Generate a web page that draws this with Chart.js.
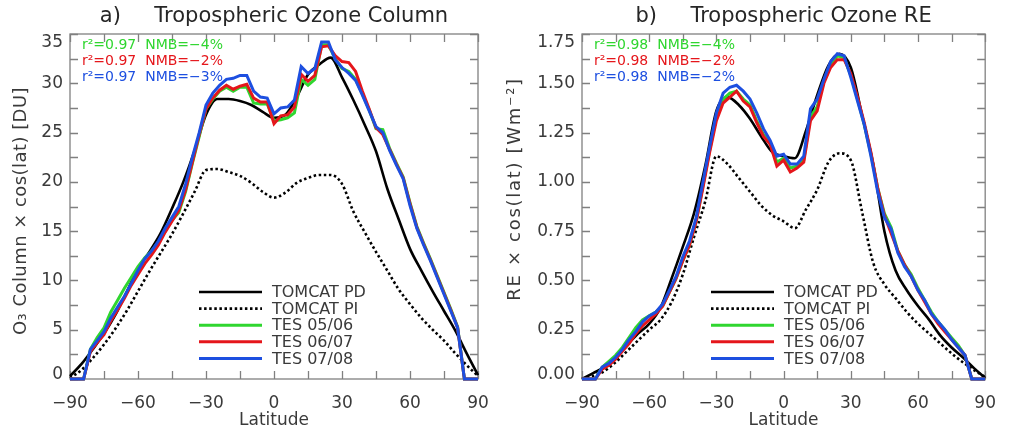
<!DOCTYPE html>
<html>
<head>
<meta charset="utf-8">
<script src="https://cdn.jsdelivr.net/npm/chart.js@4.4.1/dist/chart.umd.min.js"></script>
<style>
  html, body { margin: 0; padding: 0; background: #fff; }
  #wrap { position: relative; width: 1010px; height: 431px; }
  #wrap canvas { position: absolute; top: 0; }
</style>
</head>
<body>
<div id="wrap">
  <canvas id="chartCol" width="505" height="431" style="left:0"></canvas>
  <canvas id="chartRE" width="505" height="431" style="left:505px"></canvas>
</div>
<script>
/* ====== DATA ====== */

// latitude grids (model output every 5 deg, TES zonal means every 3 deg)
const latModel = [-90, -85, -80, -75, -70, -65, -60, -55, -50, -45,
                  -40, -35, -30, -25, -20, -15, -10, -5, 0, 5,
                  10, 15, 20, 25, 30, 35, 40, 45, 50, 55,
                  60, 65, 70, 75, 80, 85, 90];
const latTES = [-90, -87, -84, -81, -78, -75, -72, -69, -66, -63,
                -60, -57, -54, -51, -48, -45, -42, -39, -36, -33,
                -30, -27, -24, -21, -18, -15, -12, -9, -6, -3,
                0, 3, 6, 9, 12, 15, 18, 21, 24, 27,
                30, 33, 36, 39, 42, 45, 48, 51, 54, 57,
                60, 63, 66, 69, 72, 75, 78, 81, 84, 87,
                90];
const latTicks = [-90, -60, -30, 0, 30, 60, 90];

// a) tropospheric ozone column x cos(lat) [DU]
const colPD = [0.3, 1.5, 3.0, 4.6, 6.5, 8.8, 11.2, 12.9, 14.8, 17.3,
               20.0, 23.2, 26.8, 28.4, 28.4, 28.2, 27.8, 27.1, 26.5, 26.8,
               28.6, 30.9, 31.9, 32.6, 30.6, 28.3, 25.8, 23.1, 19.3, 16.2,
               13.2, 11.0, 8.9, 6.9, 4.9, 2.6, 0.4];
const colPI = [0.1, 0.9, 2.1, 3.5, 5.1, 6.9, 8.9, 10.9, 12.8, 14.7,
               16.8, 19.0, 21.2, 21.3, 21.0, 20.6, 19.9, 19.0, 18.4, 18.9,
               19.9, 20.4, 20.7, 20.7, 19.8, 17.0, 14.9, 12.9, 11.0, 9.1,
               7.6, 6.2, 5.0, 3.9, 2.6, 1.4, 0.3];
const colTES0506 = [0, 0, 0, 3.0, 4.2, 5.2, 6.8, 8.0, 9.2, 10.3,
                    11.4, 12.3, 13.0, 13.9, 15.0, 16.1, 16.9, 19.0, 21.9, 24.6,
                    27.4, 28.4, 29.2, 29.6, 29.2, 29.6, 29.6, 28.0, 27.9, 27.9,
                    26.2, 26.3, 26.5, 27.0, 30.4, 29.8, 30.4, 33.9, 33.9, 32.5,
                    31.5, 31.2, 30.4, 28.9, 27.3, 25.4, 25.3, 23.4, 21.9, 20.5,
                    17.9, 15.5, 13.8, 12.2, 10.5, 8.8, 7.1, 5.3, 0, 0,
                    0];
const colTES0607 = [0, 0, 0, 2.8, 3.7, 4.5, 5.9, 7.0, 8.2, 9.5,
                    10.6, 11.7, 12.6, 13.6, 14.9, 16.0, 17.1, 19.2, 22.0, 24.8,
                    27.4, 28.5, 29.3, 29.8, 29.4, 29.7, 29.9, 28.5, 28.1, 28.1,
                    25.9, 26.7, 26.8, 27.6, 30.9, 30.2, 30.8, 33.7, 33.8, 32.8,
                    32.2, 32.1, 31.2, 29.2, 27.4, 25.5, 24.8, 23.3, 21.8, 20.4,
                    17.8, 15.4, 13.7, 12.1, 10.4, 8.7, 7.0, 5.2, 0, 0,
                    0];
const colTES0708 = [0, 0, 0, 3.0, 3.9, 4.8, 6.2, 7.3, 8.4, 9.7,
                    11.0, 12.2, 13.0, 14.0, 15.3, 16.4, 17.5, 19.8, 22.5, 25.0,
                    27.8, 29.0, 29.8, 30.4, 30.5, 30.8, 30.8, 29.2, 28.6, 28.5,
                    26.9, 27.5, 27.6, 28.3, 31.7, 31.0, 31.5, 34.2, 34.2, 32.4,
                    31.6, 31.0, 30.3, 28.8, 27.2, 25.6, 25.0, 23.2, 21.7, 20.3,
                    17.6, 15.3, 13.6, 12.0, 10.3, 8.6, 6.9, 5.2, 0, 0,
                    0];
const colR2 = [0.97, 0.97, 0.97];
const colNMB = [-4, -2, -3];

// b) tropospheric ozone RE x cos(lat) [W m-2]
const rePD = [0.0, 0.03, 0.06, 0.11, 0.17, 0.23, 0.28, 0.36, 0.51, 0.67,
              0.84, 1.08, 1.36, 1.43, 1.39, 1.32, 1.23, 1.15, 1.13, 1.12,
              1.26, 1.44, 1.59, 1.65, 1.58, 1.34, 1.09, 0.75, 0.55, 0.45,
              0.37, 0.30, 0.22, 0.16, 0.11, 0.055, 0.005];
const rePI = [0.0, 0.015, 0.04, 0.085, 0.14, 0.195, 0.25, 0.30, 0.39, 0.53,
              0.72, 0.90, 1.13, 1.09, 1.02, 0.95, 0.88, 0.83, 0.80, 0.765,
              0.86, 0.96, 1.10, 1.145, 1.11, 0.85, 0.59, 0.48, 0.41, 0.34,
              0.28, 0.23, 0.18, 0.13, 0.085, 0.045, 0.01];
const reTES0506 = [0, 0, 0, 0.06, 0.09, 0.12, 0.16, 0.21, 0.26, 0.30,
                   0.32, 0.34, 0.37, 0.44, 0.51, 0.60, 0.68, 0.80, 0.98, 1.16,
                   1.33, 1.42, 1.45, 1.46, 1.42, 1.39, 1.31, 1.24, 1.20, 1.10,
                   1.12, 1.07, 1.08, 1.11, 1.33, 1.38, 1.51, 1.59, 1.64, 1.63,
                   1.54, 1.42, 1.29, 1.14, 0.97, 0.84, 0.77, 0.65, 0.58, 0.53,
                   0.46, 0.40, 0.34, 0.29, 0.25, 0.21, 0.17, 0.12, 0, 0,
                   0];
const reTES0607 = [0, 0, 0, 0.05, 0.07, 0.10, 0.14, 0.18, 0.23, 0.27,
                   0.30, 0.33, 0.37, 0.44, 0.51, 0.60, 0.68, 0.80, 0.97, 1.15,
                   1.31, 1.40, 1.43, 1.46, 1.41, 1.38, 1.30, 1.23, 1.19, 1.08,
                   1.11, 1.05, 1.07, 1.10, 1.31, 1.36, 1.50, 1.58, 1.62, 1.62,
                   1.55, 1.43, 1.30, 1.15, 0.97, 0.83, 0.74, 0.65, 0.58, 0.52,
                   0.45, 0.39, 0.33, 0.28, 0.24, 0.20, 0.16, 0.12, 0, 0,
                   0];
const reTES0708 = [0, 0, 0, 0.06, 0.08, 0.11, 0.15, 0.20, 0.24, 0.29,
                   0.32, 0.34, 0.38, 0.45, 0.52, 0.62, 0.70, 0.82, 1.00, 1.18,
                   1.35, 1.45, 1.48, 1.49, 1.46, 1.42, 1.35, 1.27, 1.21, 1.13,
                   1.14, 1.09, 1.09, 1.13, 1.37, 1.42, 1.52, 1.61, 1.65, 1.64,
                   1.53, 1.41, 1.29, 1.13, 0.95, 0.82, 0.76, 0.64, 0.57, 0.52,
                   0.45, 0.40, 0.33, 0.29, 0.25, 0.20, 0.16, 0.12, 0, 0,
                   0];
const reR2 = [0.98, 0.98, 0.98];
const reNMB = [-4, -2, -2];

/* ====== STYLE ====== */
const FONT = '"DejaVu Sans", sans-serif';
const TEXT = '#3a3a3a';
const GREEN = '#2fd62f';
const RED = '#e5161b';
const BLUE = '#1d4fe0';
const tesColors = [GREEN, RED, BLUE];

Chart.defaults.font.family = FONT;
Chart.defaults.color = TEXT;

const minus = v => (v < 0 ? '\u2212' + Math.abs(v) : String(v));
const pts = (xs, ys) => xs.map((x, i) => ({ x: x, y: ys[i] }));

/* ====== PLUGINS ====== */

// IDL style frame: box round the plot with inward ticks on all 4 sides
const boxTicks = {
  id: 'boxTicks',
  beforeDatasetsDraw(chart, args, opts) {
    const { ctx, chartArea: a, scales: { x, y } } = chart;
    const len = 8;
    ctx.save();
    ctx.strokeStyle = '#808080';
    ctx.lineWidth = 1.3;
    ctx.strokeRect(a.left, a.top, a.right - a.left, a.bottom - a.top);
    ctx.beginPath();
    for (let v = x.min; v <= x.max + 1e-9; v += opts.xMinor) {
      const px = Math.round(x.getPixelForValue(v)) + 0.5;
      ctx.moveTo(px, a.bottom); ctx.lineTo(px, a.bottom - len);
      ctx.moveTo(px, a.top); ctx.lineTo(px, a.top + len);
    }
    for (let v = y.min; v <= y.max + 1e-9; v += opts.yMinor) {
      const py = Math.round(y.getPixelForValue(v)) + 0.5;
      ctx.moveTo(a.left, py); ctx.lineTo(a.left + len, py);
      ctx.moveTo(a.right, py); ctx.lineTo(a.right - len, py);
    }
    ctx.stroke();

    // y tick labels (kept inside the frame height like IDL does)
    ctx.font = '17px ' + FONT;
    ctx.fillStyle = TEXT;
    ctx.textAlign = 'right';
    ctx.textBaseline = 'middle';
    y.ticks.forEach(t => {
      const py = Math.min(Math.max(y.getPixelForValue(t.value), a.top + 9), a.bottom - 4);
      ctx.fillText(opts.yFmt(t.value), a.left - 7, py);
    });

    // y axis title
    ctx.save();
    ctx.translate(opts.yTitleX, opts.yTitleY);
    ctx.rotate(-Math.PI / 2);
    ctx.font = '18px ' + FONT;
    ctx.textAlign = 'center';
    if ('letterSpacing' in ctx) ctx.letterSpacing = opts.yTitleSpacing + 'px';
    ctx.fillText(opts.yTitle, 0, 0);
    ctx.restore();
    ctx.restore();
  }
};

// panel title, r2/NMB statistics and the legend inside the plot
const panelText = {
  id: 'panelText',
  afterDatasetsDraw(chart, args, opts) {
    const { ctx, chartArea: a } = chart;
    ctx.save();
    ctx.textBaseline = 'middle';

    // title
    ctx.font = '21px ' + FONT;
    ctx.fillStyle = '#262626';
    ctx.textAlign = 'center';
    ctx.fillText(opts.title, (a.left + a.right) / 2, 17);

    // stats
    ctx.font = '14px ' + FONT;
    ctx.textAlign = 'left';
    opts.r2.forEach((r, i) => {
      ctx.fillStyle = tesColors[i];
      ctx.fillText('r\u00b2=' + r.toFixed(2) + '  NMB=' + minus(opts.nmb[i]) + '%',
                   a.left + 12, a.top + 11 + i * 16);
    });

    // legend
    ctx.font = '16px ' + FONT;
    chart.data.datasets.forEach((ds, i) => {
      const yy = a.top + 258 + i * 16.6;
      ctx.beginPath();
      ctx.strokeStyle = ds.borderColor;
      ctx.lineWidth = ds.borderWidth;
      ctx.setLineDash(ds.borderDash || []);
      ctx.moveTo(a.left + 129, yy);
      ctx.lineTo(a.left + 192, yy);
      ctx.stroke();
      ctx.setLineDash([]);
      ctx.fillStyle = TEXT;
      ctx.fillText(ds.label, a.left + 202, yy + 1);
    });
    ctx.restore();
  }
};

/* ====== CHARTS ====== */

function makePanel(id, o) {
  const tes = (data, i) => ({
    label: ['TES 05/06', 'TES 06/07', 'TES 07/08'][i],
    data: pts(latTES, data),
    borderColor: tesColors[i],
    borderWidth: 3,
    order: 3 - i,
    clip: 6
  });
  return new Chart(document.getElementById(id), {
    type: 'line',
    data: {
      datasets: [
        { label: 'TOMCAT PD', data: pts(latModel, o.pd), borderColor: '#000', borderWidth: 2.6,
          cubicInterpolationMode: 'monotone', order: 5, clip: 6 },
        { label: 'TOMCAT PI', data: pts(latModel, o.pi), borderColor: '#000', borderWidth: 2.6,
          borderDash: [2.5, 2.6], cubicInterpolationMode: 'monotone', order: 4, clip: 6 },
        tes(o.tes[0], 0),
        tes(o.tes[1], 1),
        tes(o.tes[2], 2)
      ]
    },
    options: {
      responsive: false,
      animation: false,
      elements: { point: { radius: 0 }, line: { tension: 0 } },
      layout: { padding: { left: 0, right: o.padRight, top: 34, bottom: 0 } },
      plugins: {
        legend: { display: false },
        tooltip: { enabled: false },
        boxTicks: { xMinor: 15, yMinor: o.yMinor, yFmt: o.yFmt,
                    yTitle: o.yTitle, yTitleX: o.yTitleX, yTitleY: o.yTitleY,
                    yTitleSpacing: o.yTitleSpacing },
        panelText: { title: o.title, r2: o.r2, nmb: o.nmb }
      },
      scales: {
        x: {
          type: 'linear', min: latTicks[0], max: latTicks[latTicks.length - 1],
          grid: { display: false, drawTicks: false }, border: { display: false },
          afterBuildTicks: s => { s.ticks = latTicks.map(v => ({ value: v })); },
          ticks: { padding: 14, color: TEXT, font: { size: 17 }, maxRotation: 0, autoSkip: false,
                   callback: v => minus(v) },
          title: { display: true, text: 'Latitude', color: TEXT, font: { size: 17 },
                   padding: { top: 0, bottom: 0 } },
          afterFit: s => { s.height = 52; }
        },
        y: {
          min: 0, max: o.ymax,
          grid: { display: false, drawTicks: false }, border: { display: false },
          ticks: { stepSize: o.yStep, display: false },
          afterFit: s => { s.width = o.yWidth; }
        }
      }
    },
    plugins: [boxTicks, panelText]
  });
}

makePanel('chartCol', {
  title: 'a)     Tropospheric Ozone Column',
  pd: colPD, pi: colPI, tes: [colTES0506, colTES0607, colTES0708],
  r2: colR2, nmb: colNMB,
  ymax: 35, yStep: 5, yMinor: 2.5, yFmt: v => String(v),
  yTitle: 'O\u2083 Column \u00d7 cos(lat) [DU]', yTitleX: 21.5, yTitleY: 211, yTitleSpacing: 0.45,
  yWidth: 70, padRight: 27
});

makePanel('chartRE', {
  title: 'b)     Tropospheric Ozone RE',
  pd: rePD, pi: rePI, tes: [reTES0506, reTES0607, reTES0708],
  r2: reR2, nmb: reNMB,
  ymax: 1.75, yStep: 0.25, yMinor: 0.125, yFmt: v => v.toFixed(2),
  yTitle: 'RE \u00d7 cos(lat) [Wm\u207b\u00b2]', yTitleX: 10.5, yTitleY: 189, yTitleSpacing: 1.7,
  yWidth: 77, padRight: 22
});
</script>
</body>
</html>
